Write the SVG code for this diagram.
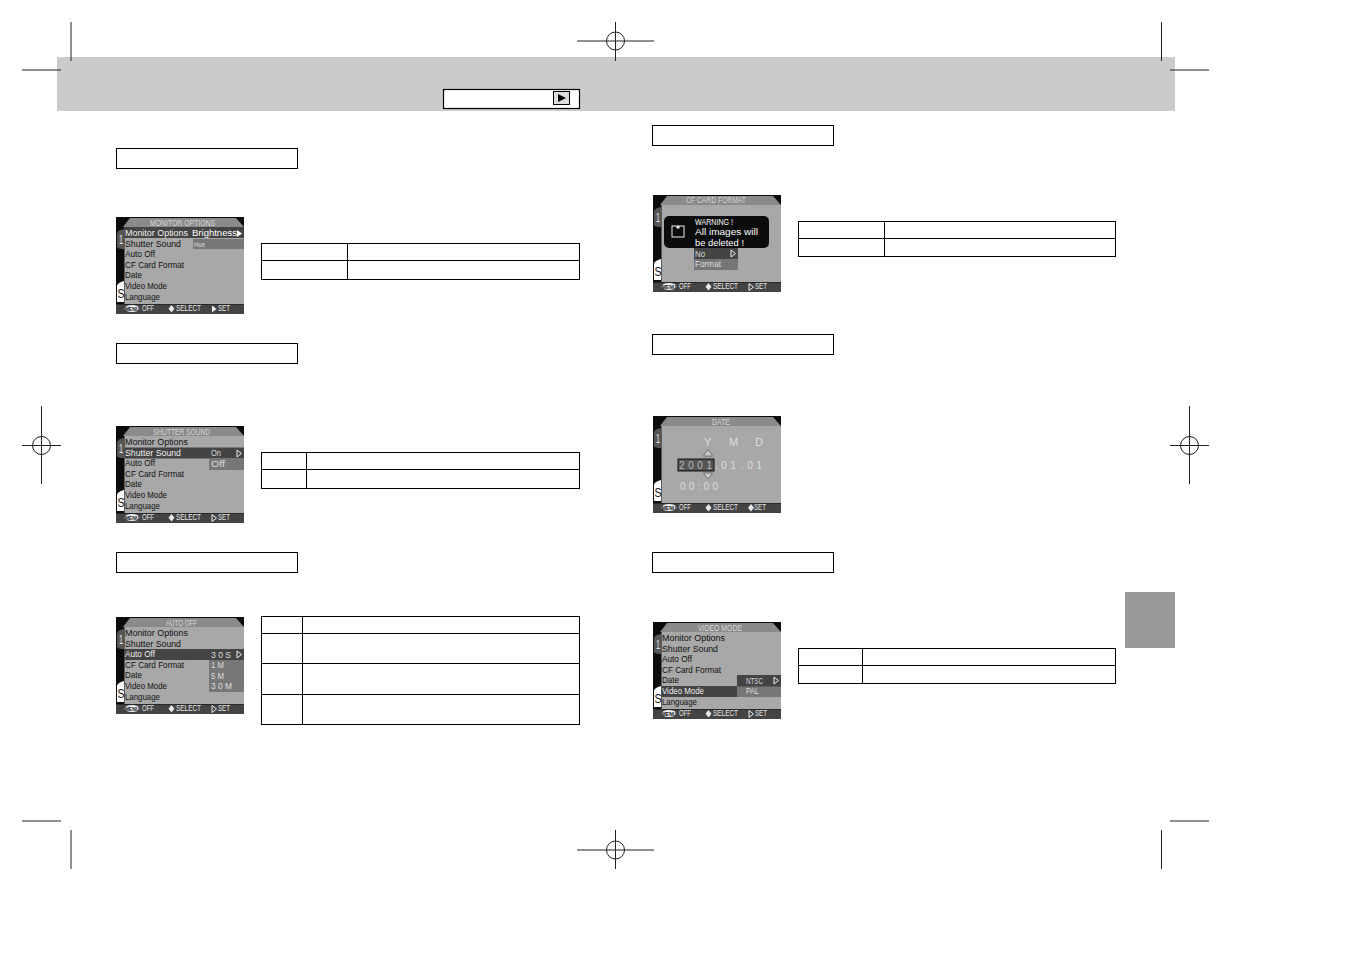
<svg xmlns="http://www.w3.org/2000/svg" width="1351" height="954" viewBox="0 0 1351 954">
<style>
.crop{stroke:#222;stroke-width:1;fill:none}
.sec{fill:#fff;stroke:#000;stroke-width:1}
.tb{fill:#fff;stroke:#000;stroke-width:1}
.ln{stroke:#000;stroke-width:1}
text{font-family:"Liberation Sans",Arial,sans-serif;font-size:9.200px}
.k{fill:#111}
.w{fill:#fff}
.l{fill:#ddd}
.h{fill:#d8d8d8;font-size:9.500px}
.f{fill:#e8e8e8;font-size:9.500px}
.d{font-size:11px;fill:#ddd}
</style>
<defs>
<g id="frame">
<rect width="128" height="97" fill="#0c0c0c"/>
<path d="M7 10L14 1H120L128 10Z" fill="#8a8a8a"/>
<rect x="8.500" y="10" width="119.500" height="77" fill="#a8a8a8"/>
<path d="M1 17Q1 13 8 12V32Q2 32 1 30Z" fill="#555"/>
<path d="M1 69Q1 66 8 64V85H1Z" fill="#fff"/>
<rect y="87.500" width="128" height="9.500" fill="#444"/>
<text x="3" y="27" style="font-size:12px;fill:#e8e8e8" textLength="4" lengthAdjust="spacingAndGlyphs">1</text>
<text x="1.500" y="81" style="font-size:13px;fill:#111" textLength="7" lengthAdjust="spacingAndGlyphs">S</text>
<ellipse cx="16" cy="91.500" rx="7.500" ry="3.500" fill="#eee"/>
<text x="16" y="93.500" style="font-size:5px;fill:#111;text-anchor:middle;font-weight:bold">MENU</text>
<text x="26" y="94.300" class="f" textLength="12" lengthAdjust="spacingAndGlyphs">OFF</text>
<path d="M55.500 88L58.500 91.800L55.500 95.500L52.500 91.800Z" fill="#e8e8e8"/>
<text x="60" y="94.300" class="f" textLength="25" lengthAdjust="spacingAndGlyphs">SELECT</text>
</g>
<g id="setTri"><path d="M0 0L4.500 3.500L0 7Z" fill="none" stroke="#eee"/></g>
<g id="setLab"><path d="M96 88.500L100.500 92L96 95.500Z" fill="none" stroke="#eee"/><text x="102" y="94.300" class="f" textLength="12" lengthAdjust="spacingAndGlyphs">SET</text></g>
<g id="menu">
<text x="9" y="19" class="k" textLength="63" lengthAdjust="spacingAndGlyphs">Monitor Options</text>
<text x="9" y="29.500" class="k" textLength="56" lengthAdjust="spacingAndGlyphs">Shutter Sound</text>
<text x="9" y="40" class="k" textLength="30" lengthAdjust="spacingAndGlyphs">Auto Off</text>
<text x="9" y="50.500" class="k" textLength="59" lengthAdjust="spacingAndGlyphs">CF Card Format</text>
<text x="9" y="61" class="k" textLength="17" lengthAdjust="spacingAndGlyphs">Date</text>
<text x="9" y="71.500" class="k" textLength="42" lengthAdjust="spacingAndGlyphs">Video Mode</text>
<text x="9" y="82.500" class="k" textLength="35" lengthAdjust="spacingAndGlyphs">Language</text>
</g>
</defs>

<rect id="band" x="57" y="57" width="1118" height="54" fill="#cbcbcb"/>
<rect id="side-tab" x="1125" y="592" width="50" height="56" fill="#999"/>

<g id="crop-marks" class="crop">
<path d="M71 22V61M22 70H61M1161.500 22V61M1170 70H1209M71 830V869M22 821H61M1161.500 830V869M1170 821H1209"/>
<circle cx="615.500" cy="41" r="9"/><path d="M577 41H654M615.500 22V61"/>
<circle cx="615.500" cy="850" r="9"/><path d="M577 850H654M615.500 830V869"/>
<circle cx="41.500" cy="445.500" r="9"/><path d="M22 445.500H61M41.500 406V484"/>
<circle cx="1189.500" cy="445.500" r="9"/><path d="M1170 445.500H1209M1189.500 406V484"/>
</g>

<g id="mode-box">
<rect x="443.500" y="89.500" width="136" height="19" fill="#fff" stroke="#000" stroke-width="1.200"/>
<rect x="553.500" y="91.500" width="16" height="13" fill="#ddd" stroke="#000"/>
<path d="M558 94L566 98L558 102Z" fill="#000"/>
</g>

<g id="section-boxes">
<rect class="sec" x="116.500" y="148.500" width="181" height="20"/>
<rect class="sec" x="116.500" y="343.500" width="181" height="20"/>
<rect class="sec" x="116.500" y="552.500" width="181" height="20"/>
<rect class="sec" x="652.500" y="125.500" width="181" height="20"/>
<rect class="sec" x="652.500" y="334.500" width="181" height="20"/>
<rect class="sec" x="652.500" y="552.500" width="181" height="20"/>
</g>

<g id="tables">
<rect class="tb" x="261.500" y="243.500" width="318" height="36"/><path class="ln" d="M261 260.500H580M347.500 243V280"/>
<rect class="tb" x="261.500" y="452.500" width="318" height="36"/><path class="ln" d="M261 469.500H580M306.500 452V489"/>
<rect class="tb" x="261.500" y="616.500" width="318" height="108"/><path class="ln" d="M261 633.500H580M261 663.500H580M261 694.500H580M302.500 616V725"/>
<rect class="tb" x="798.500" y="221.500" width="317" height="35"/><path class="ln" d="M798 238.500H1116M884.500 221V257"/>
<rect class="tb" x="798.500" y="648.500" width="317" height="35"/><path class="ln" d="M798 665.500H1116M862.500 648V684"/>
</g>

<g id="screen-monitor" transform="translate(116 217)">
<use href="#frame"/>
<rect x="8.500" y="10" width="119.500" height="11" fill="#444"/>
<rect x="77" y="22" width="51" height="10" fill="#777"/>
<use href="#menu"/>
<text x="9" y="19" class="w" textLength="63" lengthAdjust="spacingAndGlyphs">Monitor Options</text>
<text x="76" y="19" class="w" textLength="45" lengthAdjust="spacingAndGlyphs">Brightness</text>
<path d="M121 13L126 16.500L121 20Z" fill="#fff"/>
<text x="78" y="29.500" class="l" textLength="11" lengthAdjust="spacingAndGlyphs" style="font-size:8px">Hue</text>
<text x="34" y="8.500" class="h" textLength="65" lengthAdjust="spacingAndGlyphs">MONITOR OPTIONS</text>
<path d="M96 88.500L100.500 92L96 95.500Z" fill="#eee"/>
<text x="102" y="94.300" class="f" textLength="12" lengthAdjust="spacingAndGlyphs">SET</text>
</g>

<g id="screen-shutter" transform="translate(116 426)">
<use href="#frame"/>
<rect x="8.500" y="21.500" width="119.500" height="11" fill="#444"/>
<rect x="93" y="33" width="35" height="11" fill="#777"/>
<use href="#menu"/>
<text x="9" y="29.500" class="w" textLength="56" lengthAdjust="spacingAndGlyphs">Shutter Sound</text>
<text x="95" y="30" class="l" textLength="10" lengthAdjust="spacingAndGlyphs">On</text>
<use href="#setTri" x="121" y="24"/>
<text x="95" y="40.500" class="l" textLength="14" lengthAdjust="spacingAndGlyphs">Off</text>
<text x="37" y="8.500" class="h" textLength="57" lengthAdjust="spacingAndGlyphs">SHUTTER SOUND</text>
<use href="#setLab"/>
</g>

<g id="screen-autooff" transform="translate(116 617)">
<use href="#frame"/>
<rect x="8.500" y="32" width="119.500" height="11" fill="#444"/>
<rect x="93" y="43" width="35" height="32" fill="#777"/>
<use href="#menu"/>
<text x="9" y="40" class="w" textLength="30" lengthAdjust="spacingAndGlyphs">Auto Off</text>
<text x="95" y="40.500" class="l" textLength="20" lengthAdjust="spacingAndGlyphs">3 0 S</text>
<use href="#setTri" x="121" y="34"/>
<text x="95" y="51" class="l" textLength="13" lengthAdjust="spacingAndGlyphs">1 M</text>
<text x="95" y="61.500" class="l" textLength="13" lengthAdjust="spacingAndGlyphs">5 M</text>
<text x="95" y="72" class="l" textLength="21" lengthAdjust="spacingAndGlyphs">3 0 M</text>
<text x="50" y="8.500" class="h" textLength="31" lengthAdjust="spacingAndGlyphs">AUTO OFF</text>
<use href="#setLab"/>
</g>

<g id="screen-format" transform="translate(653 195)">
<use href="#frame"/>
<rect x="11" y="21" width="105" height="32" rx="5" fill="#0c0c0c"/>
<rect x="19" y="31" width="12" height="11" fill="none" stroke="#eee"/>
<path d="M23.500 31H26.500V33.500H23.500Z" fill="#eee"/>
<text x="42" y="30" class="w" textLength="38" lengthAdjust="spacingAndGlyphs">WARNING !</text>
<text x="42" y="40" class="w" textLength="63" lengthAdjust="spacingAndGlyphs">All images will</text>
<text x="42" y="50.500" class="w" textLength="49" lengthAdjust="spacingAndGlyphs">be deleted !</text>
<rect x="41" y="53" width="44" height="11" fill="#444"/>
<rect x="41" y="64" width="44" height="11" fill="#777"/>
<text x="42" y="61.500" class="l" textLength="10" lengthAdjust="spacingAndGlyphs">No</text>
<use href="#setTri" x="78" y="55"/>
<text x="42" y="72" class="l" textLength="26" lengthAdjust="spacingAndGlyphs">Format</text>
<text x="33" y="8" class="h" textLength="60" lengthAdjust="spacingAndGlyphs">CF CARD FORMAT</text>
<use href="#setLab"/>
</g>

<g id="screen-date" transform="translate(653 416)">
<use href="#frame"/>
<text x="51" y="30" class="d">Y</text>
<text x="76" y="30" class="d">M</text>
<text x="102" y="30" class="d">D</text>
<path d="M50.500 40L55 33.500L59.500 40Z" fill="#ccc" stroke="#444" stroke-width=".6"/>
<rect x="25" y="43" width="36" height="12" fill="#555" stroke="#111"/>
<text x="26" y="52.500" style="font-size:10px;fill:#bbb" textLength="33">2001</text>
<text x="62" y="52.500" style="font-size:10px;fill:#ddd" textLength="21">.01</text>
<text x="88" y="52.500" style="font-size:10px;fill:#ddd" textLength="21">.01</text>
<path d="M50.500 57H59.500L55 63Z" fill="#ccc" stroke="#444" stroke-width=".6"/>
<text x="27" y="73.500" style="font-size:10px;fill:#ddd" textLength="38">00:00</text>
<text x="59" y="8.500" class="h" textLength="18" lengthAdjust="spacingAndGlyphs">DATE</text>
<path d="M98 88L101 91.800L98 95.500L95 91.800Z" fill="#e8e8e8"/>
<text x="101" y="94.300" class="f" textLength="12" lengthAdjust="spacingAndGlyphs">SET</text>
</g>

<g id="screen-video" transform="translate(653 622)">
<use href="#frame"/>
<rect x="8.500" y="64" width="119.500" height="11" fill="#444"/>
<rect x="84" y="53" width="44" height="11" fill="#444"/>
<rect x="84" y="64.500" width="44" height="10.500" fill="#777"/>
<use href="#menu"/>
<text x="9" y="71.500" class="w" textLength="42" lengthAdjust="spacingAndGlyphs">Video Mode</text>
<text x="93" y="61.500" class="l" textLength="17" lengthAdjust="spacingAndGlyphs">NTSC</text>
<use href="#setTri" x="121" y="55"/>
<text x="93" y="72" class="l" textLength="13" lengthAdjust="spacingAndGlyphs">PAL</text>
<text x="45" y="8.500" class="h" textLength="44" lengthAdjust="spacingAndGlyphs">VIDEO MODE</text>
<use href="#setLab"/>
</g>
</svg>
